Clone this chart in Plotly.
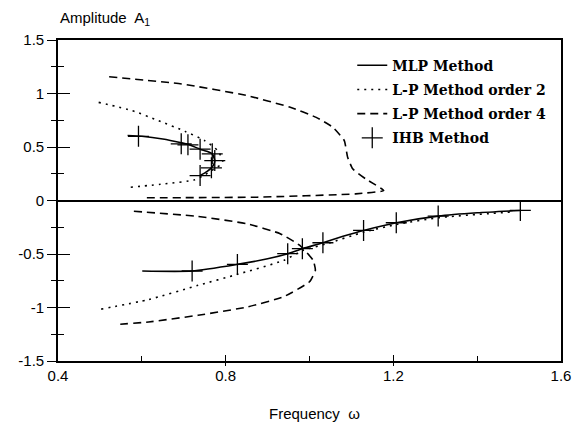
import plotly.graph_objects as go

# MLP Method (solid line)
mlp_up_f = [0.566, 0.60, 0.65, 0.694, 0.71, 0.739, 0.755, 0.768, 0.774, 0.772, 0.766, 0.755, 0.739]
mlp_up_a = [0.607, 0.60, 0.575, 0.54, 0.525, 0.48, 0.46, 0.436, 0.373, 0.34, 0.305, 0.27, 0.233]
mlp_lo_f = [0.601, 0.72, 0.828, 0.90, 0.948, 0.983, 1.032, 1.08, 1.129, 1.207, 1.307, 1.40, 1.503]
mlp_lo_a = [-0.659, -0.659, -0.597, -0.545, -0.497, -0.45, -0.395, -0.335, -0.28, -0.208, -0.146, -0.115, -0.093]

# L-P Method order 2 (dotted)
lp2_up_f = [0.497, 0.577, 0.64, 0.703, 0.75, 0.781, 0.793, 0.79, 0.773, 0.75, 0.726, 0.656, 0.573]
lp2_up_a = [0.917, 0.84, 0.746, 0.646, 0.56, 0.466, 0.373, 0.34, 0.296, 0.24, 0.193, 0.156, 0.124]
lp2_lo_f = [0.503, 0.616, 0.734, 0.828, 0.938, 0.985, 1.04, 1.13, 1.21, 1.31, 1.49]
lp2_lo_a = [-1.015, -0.926, -0.793, -0.69, -0.56, -0.466, -0.405, -0.295, -0.222, -0.16, -0.105]

# L-P Method order 4 (dashed)
lp4_up_f = [0.522, 0.695, 0.852, 0.954, 1.016, 1.056, 1.083, 1.091, 1.103, 1.134, 1.177, 1.11, 0.875, 0.612]
lp4_up_a = [1.157, 1.089, 0.98, 0.871, 0.777, 0.684, 0.56, 0.404, 0.296, 0.202, 0.093, 0.062, 0.031, 0.025]
lp4_lo_f = [0.581, 0.734, 0.852, 0.93, 0.977, 1.009, 1.014, 1.0, 0.938, 0.852, 0.734, 0.616, 0.536]
lp4_lo_a = [-0.10, -0.149, -0.218, -0.31, -0.42, -0.56, -0.653, -0.76, -0.90, -0.995, -1.073, -1.135, -1.16]

# IHB Method (+ markers)
ihb_f = [0.592, 0.694, 0.71, 0.739, 0.768, 0.774, 0.766, 0.739,
         0.72, 0.828, 0.948, 0.983, 1.032, 1.129, 1.207, 1.307, 1.503]
ihb_a = [0.60, 0.53, 0.52, 0.48, 0.436, 0.373, 0.305, 0.233,
         -0.659, -0.597, -0.497, -0.45, -0.395, -0.28, -0.208, -0.146, -0.093]

x_tickvals = [0.4, 0.8, 1.2, 1.6]
x_ticktext = ["0.4", "0.8", "1.2", "1.6"]
x_minorvals = [0.6, 1.0, 1.4]
y_tickvals = [-1.5, -1, -0.5, 0, 0.5, 1, 1.5]
y_ticktext = ["-1.5", "-1", "-0.5", "0", "0.5", "1", "1.5"]
y_minorvals = [-1.25, -0.75, -0.25, 0.25, 0.75, 1.25]


def join(a, b):
    return list(a) + [None] + list(b)


fig = go.Figure()
fig.add_trace(go.Scatter(x=join(mlp_up_f, mlp_lo_f), y=join(mlp_up_a, mlp_lo_a), mode="lines",
                         name="MLP Method", legendgroup="a",
                         line=dict(color="black", width=1.6, shape="spline", smoothing=0.6)))
fig.add_trace(go.Scatter(x=join(lp2_up_f, lp2_lo_f), y=join(lp2_up_a, lp2_lo_a), mode="lines",
                         name="L-P Method order 2", legendgroup="b",
                         line=dict(color="black", width=1.6, dash="2px,5px", shape="spline", smoothing=0.6)))
fig.add_trace(go.Scatter(x=join(lp4_up_f, lp4_lo_f), y=join(lp4_up_a, lp4_lo_a), mode="lines",
                         name="L-P Method order 4", legendgroup="c",
                         line=dict(color="black", width=1.6, dash="8px,5px", shape="spline", smoothing=0.4)))
fig.add_trace(go.Scatter(x=ihb_f, y=ihb_a, mode="markers", name="IHB Method", legendgroup="d",
                         marker=dict(symbol="cross-thin", size=15, color="black",
                                     line=dict(color="black", width=1.3))))
# helper invisible trace for overlay axes
fig.add_trace(go.Scatter(x=[0.4, 1.6], y=[-1.5, 1.5], xaxis="x2", yaxis="y2", mode="markers",
                         marker=dict(opacity=0), showlegend=False, hoverinfo="skip"))

axis_font = dict(family="Liberation Sans, Arial, sans-serif", size=15, color="black")

fig.update_layout(
    width=583, height=425,
    margin=dict(l=58, r=15, t=40, b=64),
    paper_bgcolor="white", plot_bgcolor="white",
    showlegend=True,
    legend=dict(x=0.585, y=0.97, xanchor="left", yanchor="top",
                bgcolor="rgba(0,0,0,0)", traceorder="grouped", tracegroupgap=3,
                font=dict(family="DejaVu Serif, serif", size=14, color="black", weight="bold")),
    xaxis=dict(range=[0.4, 1.6], tickvals=x_tickvals, ticktext=x_ticktext,
               ticks="inside", ticklen=6, tickwidth=1.2, tickcolor="black",
               minor=dict(tickvals=x_minorvals, ticks="inside", ticklen=5,
                          tickwidth=1.2, tickcolor="black"),
               showline=True, linecolor="black", linewidth=1.6, mirror=True,
               showgrid=False, zeroline=False, tickfont=axis_font),
    yaxis=dict(range=[-1.5, 1.5], tickvals=y_tickvals, ticktext=y_ticktext,
               ticks="outside", ticklen=9, tickwidth=1.2, tickcolor="black",
               minor=dict(tickvals=y_minorvals, ticks="outside",
                          ticklen=5, tickwidth=1.2, tickcolor="black"),
               showline=True, linecolor="black", linewidth=1.6, mirror=True,
               showgrid=False, zeroline=True, zerolinecolor="black", zerolinewidth=1.6,
               tickfont=axis_font),
    xaxis2=dict(overlaying="x", side="bottom", range=[0.4, 1.6], tickvals=[0.8, 1.2],
                ticks="outside", ticklen=4, tickwidth=1.2, tickcolor="black",
                showticklabels=False, showgrid=False, zeroline=False, showline=False),
    yaxis2=dict(overlaying="y", side="left", range=[-1.5, 1.5], tickvals=y_tickvals,
                ticks="inside", ticklen=12, tickwidth=1.2, tickcolor="black",
                minor=dict(tickvals=y_minorvals, ticks="inside",
                           ticklen=6, tickwidth=1.2, tickcolor="black"),
                showticklabels=False, showgrid=False, zeroline=False, showline=False),
    annotations=[
        dict(text="Amplitude  A<sub>1</sub>", xref="paper", yref="paper", x=0.0, y=1.068,
             xanchor="left", yanchor="middle", showarrow=False,
             font=dict(family="Liberation Sans, Arial, sans-serif", size=15, color="black")),
        dict(text="Frequency  ω", xref="paper", yref="paper", x=0.51, y=-0.162,
             xanchor="center", yanchor="middle", showarrow=False,
             font=dict(family="Liberation Sans, Arial, sans-serif", size=15, color="black")),
    ],
)

fig.write_html("out.html", config={"displayModeBar": False},
               post_script="document.body.style.margin='0';document.body.style.overflow='hidden';")
